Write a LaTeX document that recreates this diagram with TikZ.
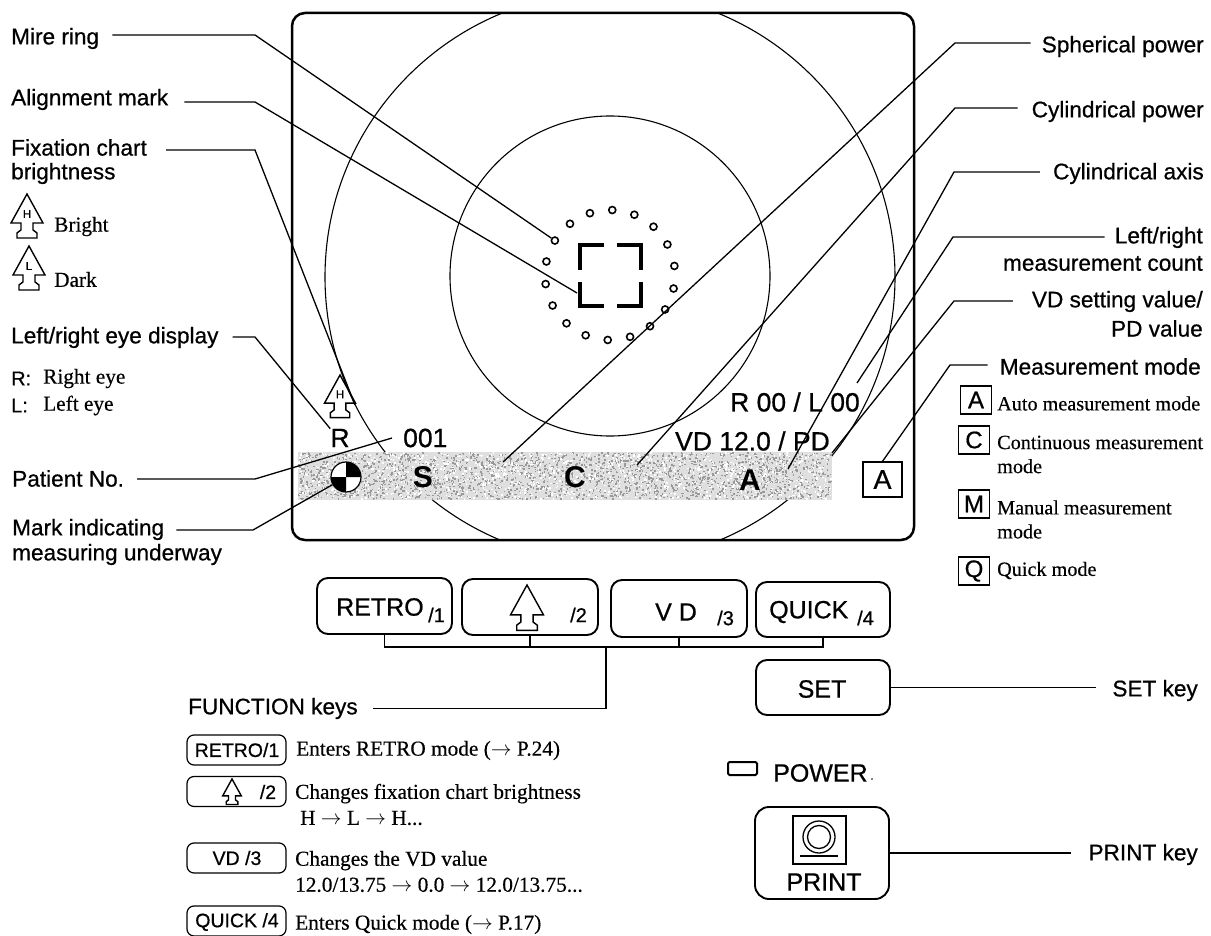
\documentclass[tikz,border=0pt]{standalone}
\usepackage{fontspec}
\setmainfont{Liberation Serif}
\setsansfont{Liberation Sans}
\newfontfamily\scansans[FakeBold=0.7]{Liberation Sans}
\newfontfamily\scanserif[FakeBold=0.4]{Liberation Serif}
\usetikzlibrary{positioning}
\tikzset{
	lbl/.style={inner sep=0pt,anchor=west,align=left,yshift=-1.5pt,font=\scansans\fontsize{22.6}{26}\selectfont},
	rlbl/.style={lbl,anchor=east,align=right},
	desc/.style={inner sep=0pt,anchor=west,align=left,yshift=-1.5pt,font=\scanserif\fontsize{21.3}{24}\selectfont},
	modedesc/.style={desc,font=\scanserif\fontsize{20.2}{24}\selectfont},
	scrtxt/.style={inner sep=0pt,font=\scansans\fontsize{26.5}{30}\selectfont},
	scrbold/.style={inner sep=0pt,font=\sffamily\bfseries\fontsize{30}{32}\selectfont},
	keytxt/.style={inner sep=0pt,font=\scansans\fontsize{25}{28}\selectfont},
	keysub/.style={inner sep=0pt,font=\scansans\fontsize{20}{22}\selectfont},
	smallkey/.style={inner sep=0pt,font=\scansans\fontsize{19.5}{22}\selectfont},
	leader/.style={line width=1.3pt},
	keybox/.style={draw,line width=1.9pt,rounded corners=11pt,inner sep=0pt,minimum width=#1},
	legkey/.style={draw,line width=1.2pt,rounded corners=7pt,inner sep=0pt,minimum width=99pt,minimum height=30pt},
	modebox/.style={draw,line width=1.3pt,inner sep=0pt,minimum width=31pt,minimum height=28pt,font=\scansans\fontsize{24}{26}\selectfont},
	ringdot/.style={draw,circle,line width=1.6pt,fill=white,inner sep=0pt,minimum size=7pt},
	fixmark/.pic={
		\draw[line width=1.4pt] (0,0) -- (16,29) -- (6,29) -- (6,36) -- (10,39) -- (10,44) -- (-10,44) -- (-10,39) -- (-6,36) -- (-6,29) -- (-16,29) -- cycle;
		\node[inner sep=0pt,font=\scansans\fontsize{11.5}{12}\selectfont] (letter) at (0,20) {\tikzpictext};
	}
}

\begin{document}
\begin{tikzpicture}[x=1pt,y=-1pt]
	\useasboundingbox (0,0) rectangle (1211,936);

	% screen
	\begin{scope}
		\clip[rounded corners=13pt] (292,13) rectangle (914,540);
		\draw[line width=1.1pt] (610,277) circle (285);
		\draw[line width=1.1pt] (610,276) circle (160);
	\end{scope}
	\fill[gray!25] (298,452) rectangle (832,500);
	\pgfmathsetseed{11}
	\foreach \k in {1,...,2300}
		\fill[gray!80] ({298+532.5*rnd},{452+46.5*rnd}) rectangle ++(1.5,1.5);
	\foreach \k in {1,...,1300}
		\fill[white] ({298+532.5*rnd},{452+46.5*rnd}) rectangle ++(1.5,1.5);
	\draw[line width=2.5pt,rounded corners=13pt] (292,13) rectangle (914,540);

	% mire ring and alignment mark
	\foreach \i in {0,...,17}
		\node[ringdot] (dot\i) at ({610+65*cos(88+20*\i)},{275-65*sin(88+20*\i)}) {};
	\draw[line width=4.5pt] (580,270) -- (580,245) -- (604,245);
	\draw[line width=4.5pt] (617,245) -- (641,245) -- (641,270);
	\draw[line width=4.5pt] (580,282) -- (580,306) -- (604,306);
	\draw[line width=4.5pt] (617,306) -- (641,306) -- (641,282);

	% screen texts
	\pic (screenMark) [pic text=H,scale=.97] at (340,375) {fixmark};
	\node[scrtxt] (eyeR) at (340,438) {R};
	\node[scrtxt,anchor=west] (patNum) at (403,438) {001};
	\node[scrtxt,anchor=east] (countTxt) at (860,402) {R 00 / L 00};
	\node[scrtxt,anchor=east] (vdTxt) at (830,441) {VD 12.0 / PD};
	\node[scrbold] (sTxt) at (423,477) {S};
	\node[scrbold] (cTxt) at (575,477) {C};
	\node[scrbold] (aTxt) at (750,480) {A};
	\node[modebox,minimum width=39pt,minimum height=35pt,font=\scansans\fontsize{27}{28}\selectfont] (modeA) at (882.5,479.5) {A};
	\node[draw,circle,line width=1.2pt,fill=white,inner sep=0pt,minimum size=30pt] (mark) at (346,477) {};
	\fill (346,477) -- (346,462) arc[start angle=-90,end angle=0,radius=15] -- cycle;
	\fill (346,477) -- (346,492) arc[start angle=90,end angle=180,radius=15] -- cycle;

	% left labels
	\node[lbl] (mireLbl) at (11,37) {Mire ring};
	\node[lbl] (alignLbl) at (11,98) {Alignment mark};
	\node[lbl] (fixLbl) at (11,146) {Fixation chart};
	\node[lbl] (fixLblb) at (11,172) {brightness};
	\pic (brightMark) [pic text=H] at (27,194) {fixmark};
	\pic (darkMark) [pic text=L] at (29,246) {fixmark};
	\node[desc] (brightTxt) at (54,225) {Bright};
	\node[desc] (darkTxt) at (54,278) {Dark};
	\node[lbl] (eyeLbl) at (11,336) {Left/right eye display};
	\node[desc,font=\scansans\fontsize{20}{24}\selectfont] (rKey) at (11,377) {R:};
	\node[desc] (rTxt) at (43,377) {Right eye};
	\node[desc,font=\scansans\fontsize{20}{24}\selectfont] (lKey) at (11,404) {L:};
	\node[desc] (lTxt) at (43,404) {Left eye};
	\node[lbl] (patLbl) at (12,477) {Patient No.};
	\node[lbl] (markLbl) at (12,528) {Mark indicating};
	\node[lbl] (markLblb) at (12,553) {measuring underway};

	% right labels
	\node[rlbl] (sphLbl) at (1204,45) {Spherical power};
	\node[rlbl] (cylLbl) at (1204,110) {Cylindrical power};
	\node[rlbl] (axisLbl) at (1204,172) {Cylindrical axis};
	\node[rlbl] (countLbl) at (1203,236) {Left/right};
	\node[rlbl] (countLblb) at (1203,262) {measurement count};
	\node[rlbl] (vdLbl) at (1203,300) {VD setting value/};
	\node[rlbl] (vdLblb) at (1203,327) {PD value};
	\node[rlbl] (modeLbl) at (1201,365) {Measurement mode};

	% mode legend
	\node[modebox] (legA) at (976,400) {A};
	\node[modebox] (legC) at (974,440) {C};
	\node[modebox] (legM) at (974,504) {M};
	\node[modebox] (legQ) at (974,571) {Q};
	\node[modedesc] (autoTxt) at (997,402) {Auto measurement mode};
	\node[modedesc] (contTxt) at (997,453) {Continuous measurement\\mode};
	\node[modedesc] (manTxt) at (997,518) {Manual measurement\\mode};
	\node[modedesc] (quickTxt) at (997,569) {Quick mode};

	% keys
	\node[keybox=135pt,minimum height=56pt] (retroKey) at (384.5,606) {};
	\node[keybox=136pt,minimum height=56pt] (arrowKey) at (530,607) {};
	\node[keybox=136pt,minimum height=57pt] (vdKey) at (679,608.5) {};
	\node[keybox=134pt,minimum height=55pt] (quickKey) at (823,609.5) {};
	\node[keybox=134pt,minimum height=55pt] (setKey) at (823,687.5) {};
	\node[keybox=134pt,minimum height=92pt,rounded corners=14pt] (printKey) at (822,853) {};
	\node[keytxt,anchor=west] (retroTxt) at (336,607) {RETRO};
	\node[keysub,anchor=west] (retroSub) at (428,615) {/1};
	\pic (keyMark) [pic text=,scale=1.03] at (527,585) {fixmark};
	\node[keysub,anchor=west] (arrowSub) at (570,615) {/2};
	\node[keytxt,anchor=west] (vdKeyTxt) at (655,612) {V D};
	\node[keysub,anchor=west] (vdSub) at (717,618) {/3};
	\node[keytxt,anchor=west] (quickKeyTxt) at (769,612) {QUICK};
	\node[keysub,anchor=west] (quickSub) at (857,618) {/4};
	\node[keytxt] (setTxt) at (822,689) {SET};
	\coordinate (busMid) at (606,647);
	\draw[line width=1.2pt] (retroKey.south) |- (quickKey.south |- busMid) -- (quickKey.south);
	\draw[line width=1.2pt] (arrowKey.south) -- (arrowKey.south |- busMid);
	\draw[line width=1.2pt] (vdKey.south) -- (vdKey.south |- busMid);

	% power and print
	\draw[line width=2pt,rounded corners=1.5pt] (728,762) rectangle (757,775);
	\node[keytxt,anchor=west] (powerTxt) at (773,773) {POWER};
	\node[inner sep=0pt,circle,fill,minimum size=1.6pt] (powerDot) at (872,779) {};
	\draw[line width=1.3pt] (793,816) rectangle (846,864);
	\draw[line width=1.3pt] (819,837) circle (16);
	\draw[line width=1.3pt] (819,837) circle (11.5);
	\draw[line width=1.3pt] (800,856) -- (838,856);
	\node[keytxt] (printTxt) at (824,882) {PRINT};

	% function keys
	\node[lbl] (fnLbl) at (188,707) {FUNCTION keys};
	\node[legkey] (legRetro) at (236.5,750) {};
	\node[smallkey] (legRetroTxt) at (237,750) {RETRO/1};
	\node[legkey] (legArrow) at (236.5,791.5) {};
	\pic (legMark) [pic text=,scale=.58] at (232,779) {fixmark};
	\node[smallkey] (legArrowTxt) at (268,792) {/2};
	\node[legkey] (legVd) at (236.5,858) {};
	\node[smallkey] (legVdTxt) at (237,858) {VD /3};
	\node[legkey] (legQuick) at (236.5,921) {};
	\node[smallkey] (legQuickTxt) at (237,922) {QUICK /4};
	\node[desc] (retroDesc) at (296,749) {Enters RETRO mode ($\rightarrow$ P.24)};
	\node[desc] (arrowDesc) at (295,803) {Changes fixation chart brightness\\[2pt]\hspace{5pt}H $\rightarrow$ L $\rightarrow$ H...};
	\node[desc] (vdDesc) at (295,870) {Changes the VD value\\[2pt]12.0/13.75 $\rightarrow$ 0.0 $\rightarrow$ 12.0/13.75...};
	\node[desc] (quickDesc) at (295,923) {Enters Quick mode ($\rightarrow$ P.17)};
	\node[lbl,anchor=east] (setLbl) at (1198,689) {SET key};
	\node[lbl,anchor=east] (printLbl) at (1198,853) {PRINT key};

	% leaders
	\coordinate (mireBend) at (255,35);
	\coordinate (alignBend) at (255,102);
	\coordinate (alignEnd) at (577,293);
	\coordinate (fixBend) at (255,150);
	\coordinate (fixEnd) at (355,405);
	\coordinate (eyeBend) at (255,337);
	\coordinate (patBend) at (255,479);
	\coordinate (markBend) at (253,530);
	\coordinate (sphBend) at (955,43);
	\coordinate (sphEnd) at (503,462);
	\coordinate (cylBend) at (955,108);
	\coordinate (cylEnd) at (637,465);
	\coordinate (axisBend) at (954,172);
	\coordinate (axisEnd) at (788,469);
	\coordinate (countBend) at (953,237);
	\coordinate (countEnd) at (857,383);
	\coordinate (vdBend) at (954,301);
	\coordinate (vdEnd) at (832,453);
	\coordinate (modeBend) at (950,365);
	\draw[leader] ([xshift=13pt]mireLbl.east |- mireBend) -- (mireBend) -- (dot3);
	\draw[leader] ([xshift=16pt]alignLbl.east |- alignBend) -- (alignBend) -- (alignEnd);
	\draw[leader] ([xshift=19pt]fixLbl.east |- fixBend) -- (fixBend) -- (fixEnd);
	\draw[leader] ([xshift=14pt]eyeLbl.east |- eyeBend) -- (eyeBend) -- (eyeR.north west);
	\draw[leader] ([xshift=13pt]patLbl.east |- patBend) -- (patBend) -- ([xshift=-11pt]patNum.west);
	\draw[leader] ([xshift=12pt]markLbl.east |- markBend) -- (markBend) -- (mark);
	\draw[leader] ([xshift=-11pt]sphLbl.west |- sphBend) -- (sphBend) -- (sphEnd);
	\draw[leader] ([xshift=-14pt]cylLbl.west |- cylBend) -- (cylBend) -- (cylEnd);
	\draw[leader] ([xshift=-13pt]axisLbl.west |- axisBend) -- (axisBend) -- (axisEnd);
	\draw[leader] ([xshift=-10pt]countLbl.west |- countBend) -- (countBend) -- (countEnd);
	\draw[leader] ([xshift=-19pt]vdLbl.west |- vdBend) -- (vdBend) -- (vdEnd);
	\draw[leader] ([xshift=-12pt]modeLbl.west |- modeBend) -- (modeBend) -- (modeA.north);
	\draw[line width=1.2pt] ([xshift=15pt]fnLbl.east) -| (busMid);
	\draw[leader] (setKey.east) -- ([xshift=-16pt]setLbl.west |- setKey.east);
	\draw[leader] (printKey.east) -- ([xshift=-17pt]printLbl.west |- printKey.east);
\end{tikzpicture}
\end{document}
